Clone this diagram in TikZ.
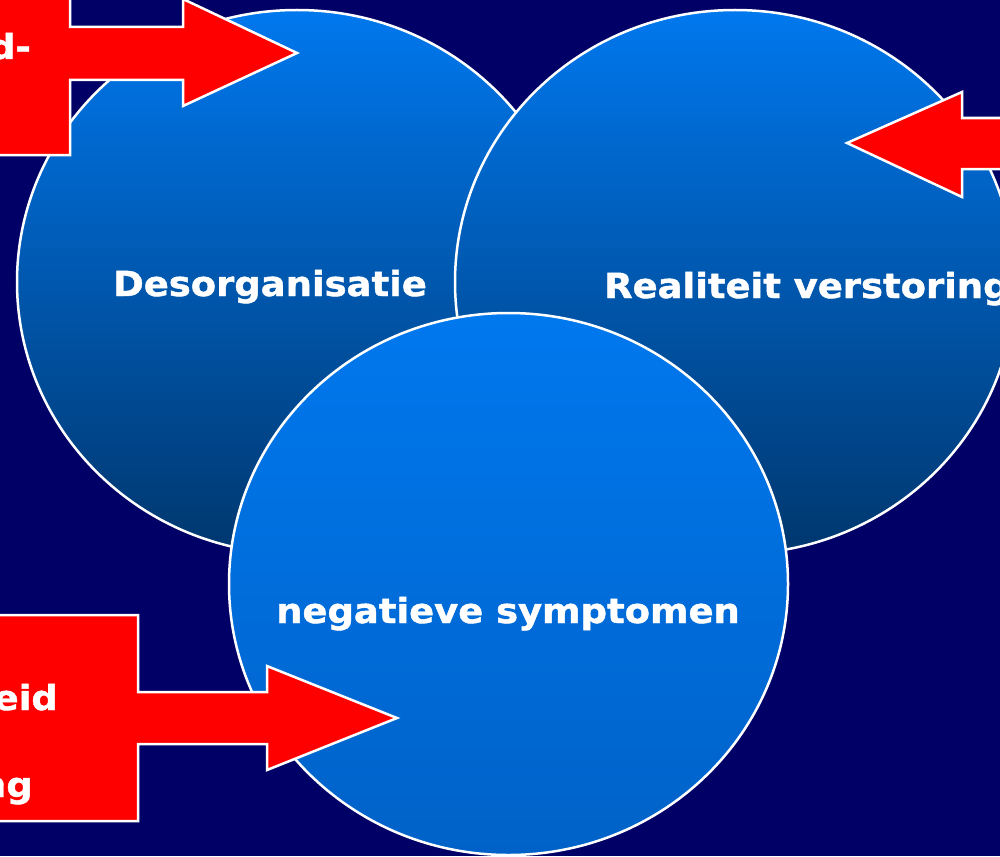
\documentclass[tikz,border=0pt]{standalone}
\usepackage{fontspec}
\setmainfont{DejaVu Sans}[FakeStretch=1.07,FakeBold=1.3]
\usetikzlibrary{shapes.geometric}
\definecolor{bg}{RGB}{0,0,102}
\definecolor{ctop}{RGB}{0,120,238}
\definecolor{cdark}{RGB}{0,55,110}
\definecolor{cbotthree}{RGB}{0,98,200}
\definecolor{cred}{RGB}{255,0,0}
\tikzset{
  bubble/.style={ellipse, draw=white, line width=2.5pt, minimum width=560pt,
    minimum height=544pt, inner sep=0pt, top color=ctop},
  lbl/.style={text=white, font=\bfseries\fontsize{34.5}{40}\selectfont, inner sep=0pt},
  callout/.style={fill=cred, draw=white, line width=2.5pt, line join=miter}
}
\begin{document}
\begin{tikzpicture}[x=1pt,y=-1pt]
\useasboundingbox (0,0) rectangle (1000,856);
\clip (0,0) rectangle (1000,856);
\fill[bg] (0,0) rectangle (1000,856);
% bubbles
\node[bubble, bottom color=cdark] (c1) at (297,282) {};
\node[bubble, bottom color=cdark] (c2) at (735,282) {};
\node[bubble, bottom color=cbotthree, minimum width=559pt, minimum height=542pt] (c3) at (508.5,584) {};
% block arrows
\draw[callout] (-10,-10) -- (70,-10) -- (70,27) -- (183,27) -- (183,-1) -- (297,53)
  -- (183,106) -- (183,80) -- (70,80) -- (70,155) -- (-10,155) -- cycle;
\draw[callout] (1010,118) -- (962,118) -- (962,92) -- (847,143) -- (962,197)
  -- (962,169) -- (1010,169) -- cycle;
\draw[callout] (-10,615) -- (138,615) -- (138,692) -- (267,692) -- (267,666) -- (397,718)
  -- (267,770) -- (267,744) -- (138,744) -- (138,821) -- (-10,821) -- cycle;
% labels
\node[lbl, anchor=base] (t1) at (270,296) {Desorganisatie};
\node[lbl, anchor=base west] (t2) at (604,298) {Realiteit verstoring};
\node[lbl, anchor=base] (t3) at (508,623) {negatieve symptomen};
\node[lbl, anchor=base east] (t4) at (31,59) {d-};
\node[lbl, anchor=base east] (t5) at (58,710) {eid};
\node[lbl, anchor=base east] (t6) at (33,797) {ng};
\end{tikzpicture}
\end{document}
